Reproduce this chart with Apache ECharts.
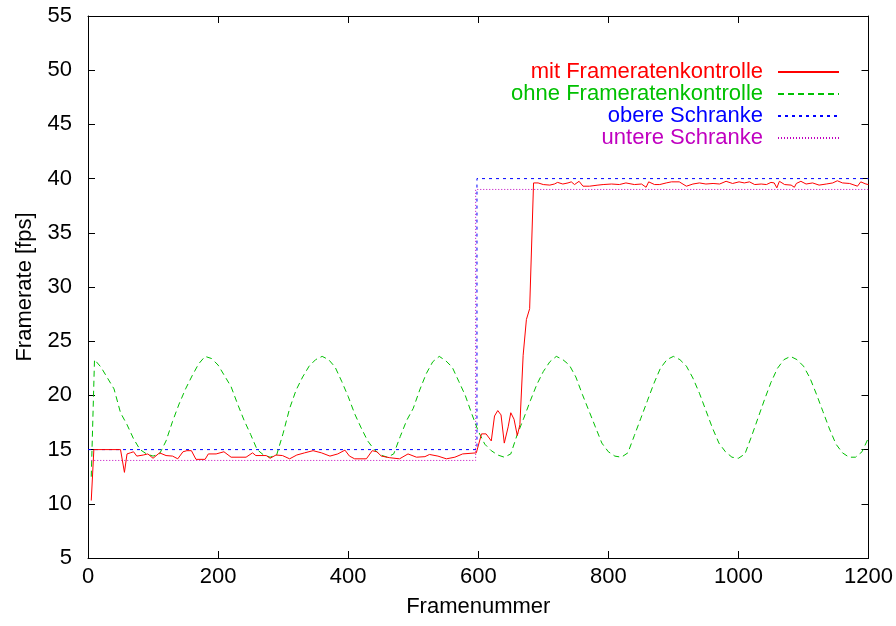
<!DOCTYPE html>
<html>
<head>
<meta charset="utf-8">
<script src="https://cdn.jsdelivr.net/npm/echarts@6/dist/echarts.min.js"></script>
<style>
  html, body { margin: 0; padding: 0; background: #fff; }
  #chart { width: 896px; height: 626px; }
</style>
</head>
<body>
<div id="chart"></div>
<script>
// Framerate with and without frame-rate control, plus the target band.
const seriesNames = ['mit Frameratenkontrolle', 'ohne Frameratenkontrolle', 'obere Schranke', 'untere Schranke'];
const xTicks = [0, 200, 400, 600, 800, 1000, 1200];
const yTicks = [5, 10, 15, 20, 25, 30, 35, 40, 45, 50, 55];

// with frame-rate control
const mitFrames = [5, 9, 50, 53, 56, 60, 65, 70, 75, 85, 92, 95, 100, 110, 120, 130, 138, 146, 152, 159, 166, 180, 185, 197, 203, 209, 220, 243, 253, 258, 266, 274, 280, 289, 299, 310, 321, 333, 346, 359, 372, 384, 395, 402, 410, 428, 437, 444, 451, 464, 479, 492, 505, 518, 525, 538, 551, 564, 576, 597, 600, 605, 612, 620, 625, 630, 635, 640, 646, 650, 655, 660, 664, 669, 674, 679, 685, 692, 700, 710, 717, 722, 730, 738, 743, 748, 755, 761, 771, 784, 792, 805, 817, 827, 840, 851, 858, 862, 871, 879, 889, 897, 909, 920, 930, 940, 950, 961, 971, 981, 991, 1001, 1009, 1017, 1025, 1035, 1043, 1050, 1055, 1059, 1063, 1071, 1081, 1086, 1089, 1096, 1104, 1114, 1124, 1135, 1145, 1152, 1160, 1171, 1183, 1188, 1196, 1200];
const mitValues = [10.3, 15.0, 15.0, 15.0, 12.9, 14.6, 14.7, 14.8, 14.4, 14.5, 14.6, 14.7, 14.2, 14.7, 14.45, 14.4, 14.15, 14.8, 14.9, 14.9, 14.1, 14.1, 14.6, 14.6, 14.7, 14.8, 14.3, 14.3, 14.7, 14.45, 14.45, 14.45, 14.2, 14.5, 14.45, 14.15, 14.5, 14.7, 14.9, 14.7, 14.4, 14.6, 14.95, 14.4, 14.15, 14.15, 14.9, 14.8, 14.4, 14.25, 14.15, 14.6, 14.3, 14.35, 14.55, 14.4, 14.15, 14.3, 14.6, 14.7, 14.7, 16.45, 16.45, 15.8, 18.1, 18.6, 18.2, 15.6, 17.1, 18.4, 17.8, 16.3, 17.3, 23.7, 27.0, 28.0, 39.6, 39.6, 39.45, 39.4, 39.5, 39.65, 39.5, 39.6, 39.7, 39.45, 39.75, 39.3, 39.3, 39.4, 39.45, 39.5, 39.45, 39.6, 39.45, 39.5, 39.2, 39.7, 39.45, 39.45, 39.6, 39.7, 39.7, 39.3, 39.5, 39.6, 39.5, 39.55, 39.5, 39.75, 39.55, 39.7, 39.6, 39.7, 39.45, 39.5, 39.45, 39.65, 39.6, 39.15, 39.75, 39.45, 39.4, 39.2, 39.55, 39.75, 39.5, 39.6, 39.4, 39.5, 39.6, 39.8, 39.6, 39.55, 39.3, 39.7, 39.5, 39.45];

// without frame-rate control
const ohneFrames = [5, 10, 20, 30, 40, 50, 60, 70, 80, 90, 100, 110, 120, 130, 140, 150, 160, 170, 180, 190, 200, 210, 220, 230, 240, 250, 260, 270, 280, 290, 300, 310, 320, 330, 340, 350, 360, 370, 380, 390, 400, 410, 420, 430, 440, 450, 460, 470, 480, 490, 500, 510, 520, 530, 540, 550, 560, 570, 580, 590, 600, 610, 620, 630, 640, 650, 660, 670, 680, 690, 700, 710, 720, 730, 740, 750, 760, 770, 780, 790, 800, 810, 820, 830, 840, 850, 860, 870, 880, 890, 900, 910, 920, 930, 940, 950, 960, 970, 980, 990, 1000, 1010, 1020, 1030, 1040, 1050, 1060, 1070, 1080, 1090, 1100, 1110, 1120, 1130, 1140, 1150, 1160, 1170, 1180, 1190, 1200];
const ohneValues = [12.5, 23.3, 22.6, 21.6, 20.6, 18.4, 17.3, 16.0, 15.0, 14.6, 14.4, 14.6, 15.8, 17.6, 19.2, 20.6, 21.8, 22.9, 23.6, 23.4, 22.8, 21.8, 20.8, 19.2, 17.7, 16.4, 15.0, 14.5, 14.3, 14.5, 16.5, 18.8, 20.5, 21.7, 22.7, 23.3, 23.6, 23.3, 22.6, 21.3, 19.9, 18.3, 17.0, 15.8, 15.0, 14.5, 14.3, 14.6, 16.2, 17.7, 18.8, 20.5, 22.0, 23.1, 23.6, 23.2, 22.6, 21.3, 20.0, 18.3, 16.7, 15.5, 14.9, 14.5, 14.3, 14.6, 16.4, 17.9, 19.5, 21.0, 22.2, 23.1, 23.6, 23.3, 22.8, 21.7, 20.1, 18.6, 17.1, 15.6, 14.8, 14.4, 14.3, 14.7, 16.3, 17.9, 19.5, 21.1, 22.5, 23.3, 23.6, 23.3, 22.7, 21.6, 20.2, 18.6, 17.0, 15.6, 14.8, 14.3, 14.2, 14.6, 16.2, 17.9, 19.6, 21.2, 22.5, 23.3, 23.6, 23.3, 22.7, 21.6, 20.1, 18.5, 16.9, 15.5, 14.7, 14.3, 14.3, 14.8, 16.1];

// target band
const obereFrames = [0, 598, 598, 1200];
const obereValues = [15, 15, 40, 40];
const untereFrames = [5, 596, 596, 1200];
const untereValues = [14, 14, 39, 39];

const colors = ['#ff0000', '#00c000', '#0000ff', '#c000c0'];
const dashes = ['solid', [6, 4], [3, 4], [1, 2]];
const FONT = 'Liberation Sans, Arial, Helvetica, sans-serif';

function pairs(xs, ys) { return xs.map((x, i) => [x, ys[i]]); }

const chart = echarts.init(document.getElementById('chart'), null, { renderer: 'canvas' });

const axisCommon = {
  type: 'value',
  axisLine: { show: true, onZero: false, lineStyle: { color: '#000', width: 1 } },
  axisTick: { show: true, inside: true, length: 7, lineStyle: { color: '#000', width: 1 } },
  splitLine: { show: false },
  nameTextStyle: { fontFamily: FONT, fontSize: 22, color: '#000' }
};

chart.setOption({
  animation: false,
  backgroundColor: '#fff',
  grid: { left: 88, right: 27, top: 16, bottom: 68, containLabel: false },
  legend: {
    orient: 'vertical',
    align: 'right',
    right: 51,
    top: 56,
    itemWidth: 61,
    itemHeight: 14,
    itemGap: 0,
    itemStyle: { opacity: 0 },
    data: seriesNames.map((n, i) => ({ name: n, textStyle: { color: colors[i] } })),
    textStyle: { fontFamily: FONT, fontSize: 22, lineHeight: 22, padding: [0, 10, 0, 0] }
  },
  xAxis: [
    Object.assign({}, axisCommon, {
      min: 0, max: 1200, interval: 200, position: 'bottom',
      name: 'Framenummer', nameLocation: 'middle', nameGap: 38,
      axisLabel: { margin: 8, fontFamily: FONT, fontSize: 22, color: '#000',
        formatter: v => xTicks.includes(v) ? String(v) : '' }
    }),
    Object.assign({}, axisCommon, {
      min: 0, max: 1200, interval: 200, position: 'top',
      axisLabel: { show: false }
    })
  ],
  yAxis: [
    Object.assign({}, axisCommon, {
      min: 5, max: 55, interval: 5, position: 'left',
      name: 'Framerate [fps]', nameLocation: 'middle', nameGap: 52,
      axisLabel: { margin: 16, fontFamily: FONT, fontSize: 22, color: '#000',
        formatter: v => yTicks.includes(v) ? String(v) : '' }
    }),
    Object.assign({}, axisCommon, {
      min: 5, max: 55, interval: 5, position: 'right',
      axisLabel: { show: false }
    })
  ],
  series: [
    [mitFrames, mitValues, 5],
    [ohneFrames, ohneValues, 4],
    [obereFrames, obereValues, 3],
    [untereFrames, untereValues, 3]
  ].map(([xs, ys, z], i) => ({
    name: seriesNames[i], type: 'line', data: pairs(xs, ys),
    symbol: 'none', showSymbol: false, z: z,
    itemStyle: { color: colors[i] },
    lineStyle: { color: colors[i], width: 1, type: dashes[i] }
  }))
});
</script>
</body>
</html>
